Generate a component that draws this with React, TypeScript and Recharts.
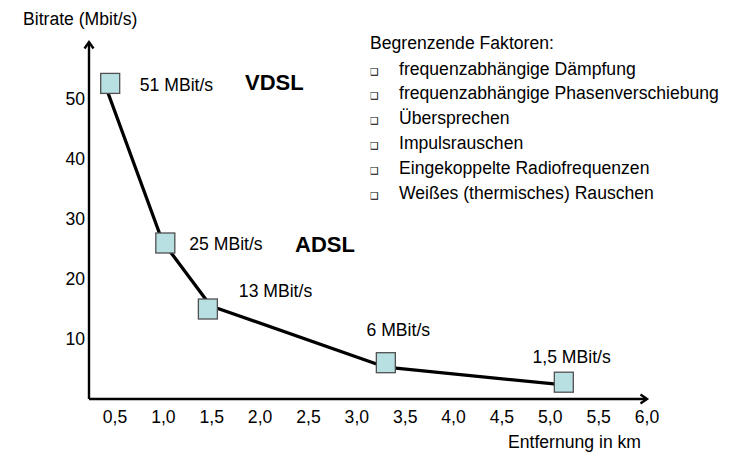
import React from 'react';
import { ComposedChart, Line, Scatter, XAxis, YAxis, LabelList } from 'recharts';

// ---- data ----
const lineDistanceKm = [0.41, 0.99, 1.49, 3.3, 5.17];
const lineBitrate = [51.8, 26.3, 15.5, 5.3, 2.3];
const markerDistanceKm = [0.45, 1.02, 1.46, 3.3, 5.14];
const markerBitrate = [52.6, 26.0, 15.0, 6.05, 2.8];
const markerLabels = ['51 MBit/s', '25 MBit/s', '13 MBit/s', '6 MBit/s', '1,5 MBit/s'];
const xTicks = [0.5, 1.0, 1.5, 2.0, 2.5, 3.0, 3.5, 4.0, 4.5, 5.0, 5.5, 6.0];
const yTicks = [10, 20, 30, 40, 50];
const yAxisTitle = 'Bitrate (Mbit/s)';
const xAxisTitle = 'Entfernung in km';
const regionLabels = ['VDSL', 'ADSL'];
const factorTitle = 'Begrenzende Faktoren:';
const factors = [
  'frequenzabhängige Dämpfung',
  'frequenzabhängige Phasenverschiebung',
  'Übersprechen',
  'Impulsrauschen',
  'Eingekoppelte Radiofrequenzen',
  'Weißes (thermisches) Rauschen',
];

const lineData = lineDistanceKm.map((x, i) => ({ x, y: lineBitrate[i] }));
const markerData = markerDistanceKm.map((x, i) => ({ x, y: markerBitrate[i], label: markerLabels[i] }));

// ---- styling ----
const FONT = '"Liberation Sans", Arial, sans-serif';
const FS = 17.6;
const LABEL_OFFSETS: [number, number][] = [
  [29.6, 7.3],
  [24, 7],
  [31, -12.3],
  [-19.3, -26.7],
  [-31.3, -19.6],
];

const SquareShape = (props: any) => {
  const { cx, cy } = props;
  if (cx == null || cy == null) return null;
  return (
    <rect x={cx - 9.5} y={cy - 10} width={19} height={20} fill="#b8dfe2" stroke="#505050" strokeWidth={1.3} />
  );
};

const PointLabel = (props: any) => {
  const { x, y, width, height, index, value } = props;
  const cx = x + (width || 0) / 2;
  const cy = y + (height || 0) / 2;
  const [dx, dy] = LABEL_OFFSETS[index] || [20, 0];
  return (
    <text x={cx + dx} y={cy + dy} fontSize={FS} fontFamily={FONT} fill="#000">
      {value}
    </text>
  );
};

const fmt = (v: number) => v.toFixed(1).replace('.', ',');

export default function App() {
  return (
    <div style={{ position: 'absolute', left: 0, top: 0, width: 733, height: 453, background: '#fff' }}>
      <ComposedChart
        width={733}
        height={453}
        margin={{ top: 42, right: 86, bottom: 53, left: 88 }}
        style={{ fontFamily: FONT }}
      >
        <defs>
          <marker
            id="axisArrow"
            viewBox="0 0 12 12"
            markerWidth={12}
            markerHeight={12}
            refX={8.5}
            refY={6}
            orient="auto-start-reverse"
            markerUnits="userSpaceOnUse"
          >
            <polyline points="2,1.5 8.5,6 2,10.5" fill="none" stroke="#000" strokeWidth={2.4} />
          </marker>
        </defs>
        <XAxis
          type="number"
          dataKey="x"
          domain={[0.231, 6.0]}
          allowDataOverflow
          ticks={xTicks}
          tickFormatter={fmt}
          tickLine={false}
          tickMargin={6}
          height={1}
          interval={0}
          axisLine={{ stroke: '#000', strokeWidth: 2.4, markerEnd: 'url(#axisArrow)' } as any}
          tick={{ fill: '#000', fontSize: FS, fontFamily: FONT }}
        />
        <YAxis
          type="number"
          dataKey="y"
          domain={[0, 59.5]}
          allowDataOverflow
          ticks={yTicks}
          tickLine={false}
          tickSize={2}
          tickMargin={2}
          width={1}
          interval={0}
          axisLine={{ stroke: '#000', strokeWidth: 2.4, markerStart: 'url(#axisArrow)' } as any}
          tick={{ fill: '#000', fontSize: FS, fontFamily: FONT }}
        />
        <Scatter data={markerData} dataKey="y" shape={SquareShape} isAnimationActive={false}>
          <LabelList dataKey="label" content={PointLabel} />
        </Scatter>
        <Line
          data={lineData}
          dataKey="y"
          type="linear"
          stroke="#000"
          strokeWidth={3.3}
          dot={false}
          activeDot={false}
          isAnimationActive={false}
          strokeLinejoin="round"
        />
        <g fontFamily={FONT} fill="#000">
          <text x={23} y={25} fontSize={FS}>{yAxisTitle}</text>
          <text x={508} y={448} fontSize={FS}>{xAxisTitle}</text>
          <text x={245} y={89.5} fontSize={22} fontWeight="bold">{regionLabels[0]}</text>
          <text x={295} y={251.5} fontSize={22} fontWeight="bold">{regionLabels[1]}</text>
          <text x={370} y={49} fontSize={FS}>{factorTitle}</text>
          {factors.map((f, i) => (
            <g key={f}>
              <text x={370} y={74.5 + i * 24.9} fontSize={9.5} fontFamily='"DejaVu Sans"'>❑</text>
              <text x={399} y={74.5 + i * 24.9} fontSize={FS}>{f}</text>
            </g>
          ))}
        </g>
      </ComposedChart>
    </div>
  );
}
